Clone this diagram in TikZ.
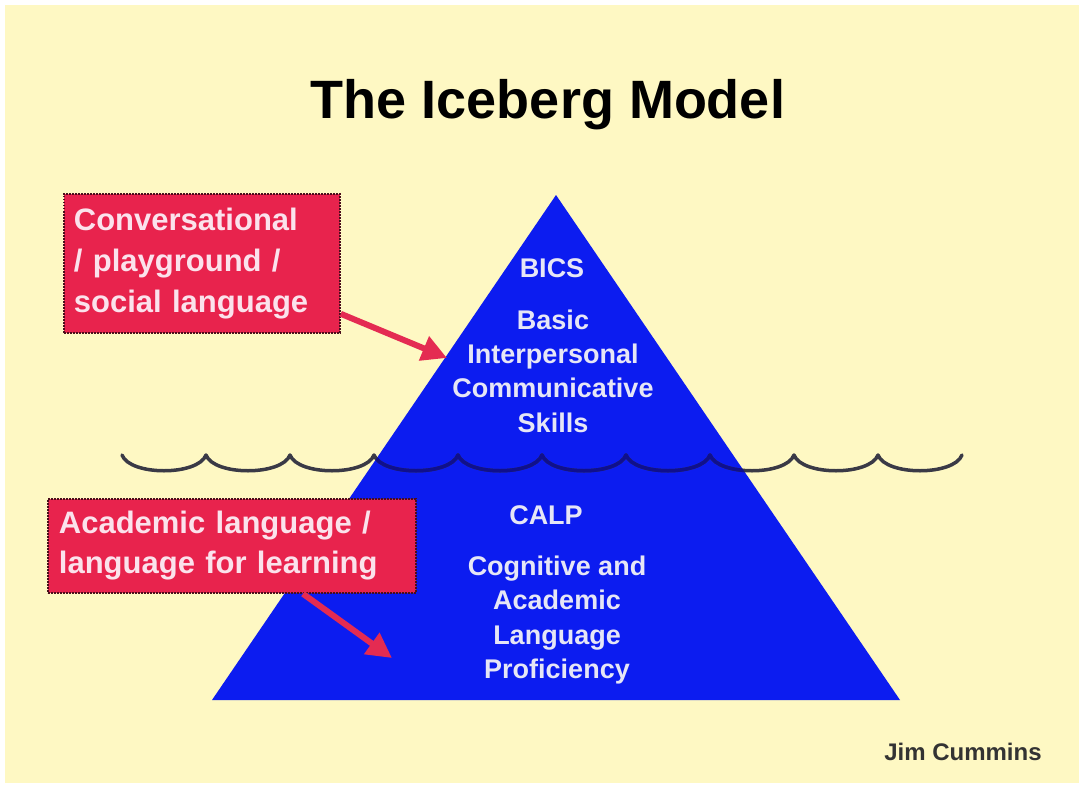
\documentclass[tikz,border=0pt]{standalone}
\usepackage{fontspec}
\setmainfont{Liberation Sans}
\usetikzlibrary{arrows.meta,calc}
\definecolor{bgyellow}{HTML}{FEF8C3}
\definecolor{iceblue}{HTML}{0C1CF0}
\definecolor{boxred}{HTML}{E8234D}
\definecolor{arrowred}{HTML}{E42B52}
\definecolor{boxtext}{HTML}{FBE2EC}
\definecolor{icetext}{HTML}{E6E6F6}
\definecolor{borderdark}{HTML}{4A0E1C}
\definecolor{wavegray}{HTML}{3A3A46}
\definecolor{wavenavy}{HTML}{10108C}
\begin{document}
\begin{tikzpicture}[x=1pt,y=-1pt,
  labelbox/.style={fill=boxred, draw=borderdark, line width=1.8pt,
    dash pattern=on 1.6pt off 1.4pt, anchor=north west, align=left,
    text=boxtext, font=\bfseries\fontsize{31}{41}\selectfont, inner ysep=0pt},
  icetxt/.style={text=icetext, align=center, font=\bfseries\fontsize{27}{34.3}\selectfont},
  redarrow/.style={draw=arrowred, line width=6pt,
    -{Triangle[length=25pt,width=25pt]}},
  wave/.style={line width=3.5pt, line cap=round}]
\useasboundingbox (0,0) rectangle (1079,787);
\fill[white] (0,0) rectangle (1079,787);
\fill[bgyellow] (5,5) rectangle (1079,783);
% title
\node[font=\bfseries\fontsize{54}{60}\selectfont] (title) at (548,105) {The Iceberg Model};
% iceberg
\coordinate (apex) at (556,195);
\coordinate (bl) at (212,700);
\coordinate (br) at (900,700);
\fill[iceblue] (apex) -- (bl) -- (br) -- cycle;
% wave
\foreach \i in {0,...,9} {
  \draw[wave, wavegray] ({122+84*\i},455) .. controls ({130+84*\i},476) and ({198+84*\i},476) .. ({206+84*\i},455);
}
\begin{scope}
  \clip (apex) -- (bl) -- (br) -- cycle;
  \foreach \i in {0,...,9} {
    \draw[wave, wavenavy] ({122+84*\i},455) .. controls ({130+84*\i},476) and ({198+84*\i},476) .. ({206+84*\i},455);
  }
\end{scope}
% iceberg texts
\node[icetxt] (bics) at (552,268) {BICS};
\node[icetxt] (bicsfull) at (553,371) {Basic\\Interpersonal\\Communicative\\Skills};
\node[icetxt] (calp) at (546,515) {CALP};
\node[icetxt] (calpfull) at (557,620) {Cognitive and\\Academic\\Language\\Proficiency};
% label boxes
\node[labelbox, minimum width=276pt, minimum height=139pt, text width=256pt, inner xsep=10pt]
  (box1) at (63,193) {Conversational\\/ playground /\\social language};
\node[labelbox, minimum width=368pt, minimum height=94pt, text width=346pt, inner xsep=11pt,
  font=\bfseries\fontsize{31}{40}\selectfont]
  (box2) at (47,498) {Academic language /\\language for learning};
% arrows
\coordinate (tip1) at (447,358);
\coordinate (tip2) at (392,658);
\draw[redarrow] ($(box1.south east)+(0,-20)$) -- (tip1);
\draw[redarrow] ($(box2.south west)+(256,0)$) -- (tip2);
% author
\node[font=\bfseries\fontsize{24}{28}\selectfont, text=black!80] (author) at (963,752) {Jim Cummins};
\end{tikzpicture}
\end{document}
